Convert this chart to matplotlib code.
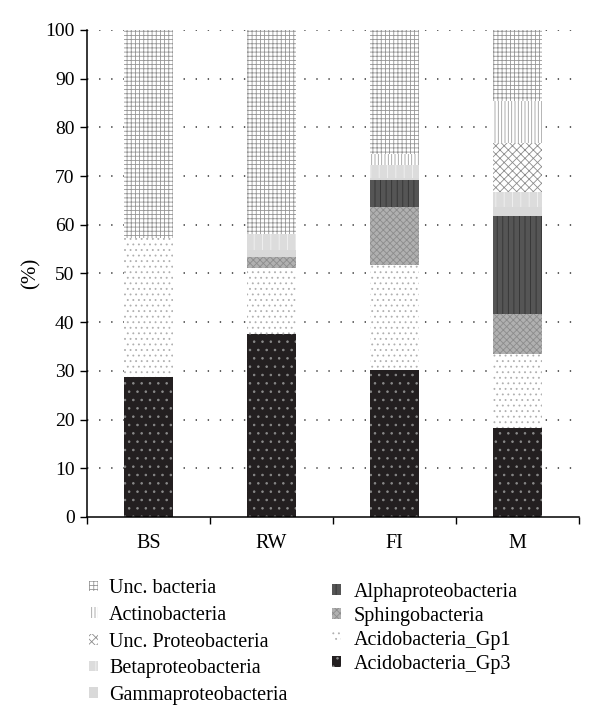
import matplotlib
matplotlib.use("Agg")
import matplotlib.pyplot as plt
from matplotlib.patches import Patch
import numpy as np

# categorias y valores (%) de cada segmento, de abajo hacia arriba
sitios = ["BS", "RW", "FI", "M"]

gp3 = [28.7, 37.6, 30.2, 18.3]
gp1 = [28.5, 13.5, 21.5, 15.2]
sphingo = [0.0, 2.3, 11.9, 8.2]
alpha = [0.0, 0.0, 5.5, 20.0]
gamma = [0.0, 1.4, 0.5, 1.9]
beta = [0.0, 3.3, 2.7, 3.1]
unc_proteo = [0.0, 0.0, 0.0, 10.1]
actino = [0.0, 0.0, 2.3, 8.6]
unc_bact = [42.8, 41.9, 25.4, 14.6]

# nombre, valores, color de fondo, color de trama, trama
capas = [
    ("Acidobacteria_Gp3", gp3, "#231f20", "#8a8a8a", ".."),
    ("Acidobacteria_Gp1", gp1, "white", "#b0b0b0", "..."),
    ("Sphingobacteria", sphingo, "#b0b0b0", "#8c8c8c", "xxxxx"),
    ("Alphaproteobacteria", alpha, "#555555", "#333333", "|||"),
    ("Gammaproteobacteria", gamma, "#d9d9d9", "#d9d9d9", ""),
    ("Betaproteobacteria", beta, "#dcdcdc", "#f2f2f2", "||"),
    ("Unc. Proteobacteria", unc_proteo, "white", "#8c8c8c", "xxxx"),
    ("Actinobacteria", actino, "white", "#a0a0a0", "|||||"),
    ("Unc. bacteria", unc_bact, "white", "#959595", "++++"),
]

plt.rcParams["font.family"] = ["Liberation Serif", "DejaVu Serif"]
plt.rcParams["hatch.linewidth"] = 0.6

fig = plt.figure(figsize=(6, 7.24), dpi=100)
ax = fig.add_axes([0.145, 0.286, 0.82, 0.6726])

x = np.arange(len(sitios))
base = np.zeros(len(sitios))
handles = {}
for nombre, vals, fc, hc, trama in capas:
    vals = np.array(vals)
    ax.bar(x, vals, 0.4, bottom=base, facecolor=fc, edgecolor=hc,
           hatch=trama, linewidth=0)
    handles[nombre] = Patch(facecolor=fc, edgecolor=hc, hatch=trama, linewidth=0)
    base += vals

ax.set_xlim(-0.5, 3.5)
ax.set_ylim(0, 100)
ax.set_yticks(range(0, 101, 10))
ax.set_xticks(x)
ax.set_xticklabels(sitios, fontsize=14.5)
ax.set_xticks(np.arange(-0.5, 4, 1), minor=True)
ax.tick_params(axis="x", which="major", length=0, pad=12)
ax.tick_params(axis="x", which="minor", length=5, width=1, direction="out")
ax.tick_params(axis="y", length=5, width=1, labelsize=14, pad=4)
ax.spines["top"].set_visible(False)
ax.spines["right"].set_visible(False)
ax.spines["left"].set_linewidth(1.1)
ax.spines["bottom"].set_linewidth(1.1)
ax.set_ylabel("(%)", fontsize=15, labelpad=3)

# lineas de puntos
ax.set_axisbelow(True)
for v in range(10, 101, 10):
    ax.axhline(v, color="#333333", linewidth=1.1, dashes=(0.9, 7), zorder=0)

izq = ["Unc. bacteria", "Actinobacteria", "Unc. Proteobacteria",
       "Betaproteobacteria", "Gammaproteobacteria"]
der = ["Alphaproteobacteria", "Sphingobacteria", "Acidobacteria_Gp1",
       "Acidobacteria_Gp3"]

leg1 = fig.legend([handles[n] for n in izq], izq, loc="upper left",
                  bbox_to_anchor=(0.148, 0.2), frameon=False, fontsize=14.5,
                  handlelength=0.45, handleheight=0.45, handletextpad=0.55,
                  labelspacing=0.38, borderaxespad=0, borderpad=0)
leg2 = fig.legend([handles[n] for n in der], der, loc="upper left",
                  bbox_to_anchor=(0.553, 0.195), frameon=False, fontsize=14.5,
                  handlelength=0.45, handleheight=0.45, handletextpad=0.65,
                  labelspacing=0.25, borderaxespad=0, borderpad=0)

fig.savefig("out.png", dpi=100)
